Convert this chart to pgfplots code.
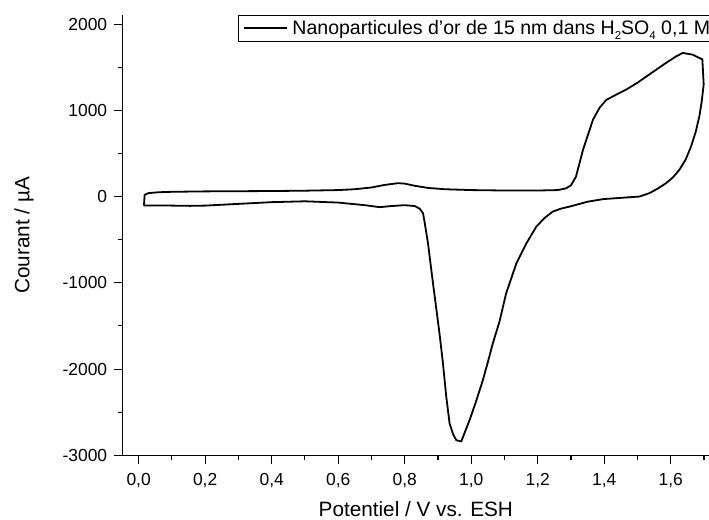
\documentclass[border=0pt]{standalone}
\usepackage{pgfplots}
\pgfplotsset{compat=1.18}
\usepackage{fontspec}
\setmainfont{Liberation Sans}
\begin{document}
\begin{tikzpicture}
\begin{axis}[
  name=ax,
  scale only axis,
  width=586.3bp, height=440.3bp,
  xmin=-0.048, xmax=1.715,
  ymin=-3000, ymax=2105,
  axis x line=bottom, axis y line=left,
  axis line style={-, line width=1.2bp},
  every tick/.style={black, line width=1.1bp},
  tick align=outside,
  major tick length=8.5bp, minor tick length=5bp,
  xtick={0,0.2,...,1.61}, minor xtick={0.1,0.3,...,1.71},
  ytick={-3000,-2000,...,2000}, minor ytick={-2500,-1500,...,1500},
  /pgf/number format/assume math mode=true,
  scaled ticks=false,
  xticklabel={\pgfmathprintnumber[fixed,fixed zerofill,precision=1,use comma]{\tick}},
  yticklabel={\pgfmathprintnumber[fixed,precision=0,1000 sep={}]{\tick}},
  every tick label/.append style={font=\fontsize{17.5}{20}\selectfont},
  xticklabel style={anchor=north, yshift=-6bp},
  yticklabel style={anchor=east, xshift=-3.5bp},
  every axis label/.append style={font=\fontsize{20.8}{24}\selectfont},
  xlabel={Potentiel / V vs. ESH},
  ylabel={Courant / µA},
  xlabel style={at={(axis description cs:0.5,-0.1380)}, anchor=base},
  ylabel style={at={(axis description cs:-0.1593,0.5)}, anchor=base},
  legend style={at={(axis description cs:0.1972,1)}, anchor=north west,
    draw=black, line width=0.8bp, font=\fontsize{19.6}{22}\selectfont,
    inner xsep=4bp, inner ysep=3bp},
  legend image code/.code={\draw[#1, line width=1.7bp] (5bp,0bp) -- (48bp,0bp); \path (51bp,0bp);},
  clip=false,
]
\addplot[black, line width=1.8bp, line join=round] coordinates {
(0.016,-105) (0.018,20) (0.03,40) (0.06,50) (0.1,55) (0.2,60) (0.3,62) (0.4,64)
(0.5,68) (0.6,75) (0.65,85) (0.7,105) (0.74,135) (0.78,155) (0.8,150) (0.83,125)
(0.87,100) (0.92,85) (1.0,75) (1.1,70) (1.2,70) (1.26,75) (1.285,95) (1.30,130)
(1.315,230) (1.336,540) (1.366,890) (1.386,1030) (1.406,1120) (1.44,1190)
(1.466,1240) (1.50,1320) (1.526,1390) (1.556,1470) (1.586,1550) (1.616,1625)
(1.636,1665) (1.666,1645) (1.695,1590) (1.699,1300) (1.693,1100) (1.686,930)
(1.675,750) (1.661,580) (1.645,430) (1.626,310) (1.606,220) (1.586,155)
(1.56,90) (1.536,40) (1.506,0) (1.45,-15) (1.396,-30) (1.35,-60) (1.296,-116)
(1.27,-140) (1.245,-175) (1.22,-250) (1.196,-348) (1.166,-541) (1.136,-773)
(1.105,-1122) (1.085,-1450) (1.065,-1702) (1.05,-1920) (1.035,-2128)
(1.015,-2370) (0.995,-2593) (0.98,-2740) (0.970,-2840) (0.955,-2825)
(0.945,-2750) (0.935,-2631) (0.925,-2322) (0.915,-1934) (0.905,-1600)
(0.895,-1300) (0.885,-1005) (0.870,-541) (0.86,-300) (0.855,-193) (0.845,-140)
(0.83,-110) (0.8,-100) (0.76,-110) (0.725,-123) (0.68,-100) (0.6,-70)
(0.5,-55) (0.4,-65) (0.3,-85) (0.2,-105) (0.154,-108) (0.1,-105) (0.05,-103)
(0.016,-105)
};
\addlegendentry{Nanoparticules d'or de 15 nm dans H\raisebox{-0.45ex}{\fontsize{11.5}{13}\selectfont 2}SO\raisebox{-0.45ex}{\fontsize{11.5}{13}\selectfont 4} 0,1 M}
\end{axis}
\pgfresetboundingbox
\path (ax.south west) ++(-122.7bp,-64.7bp) rectangle ++(709bp,520bp);
\end{tikzpicture}
\end{document}
